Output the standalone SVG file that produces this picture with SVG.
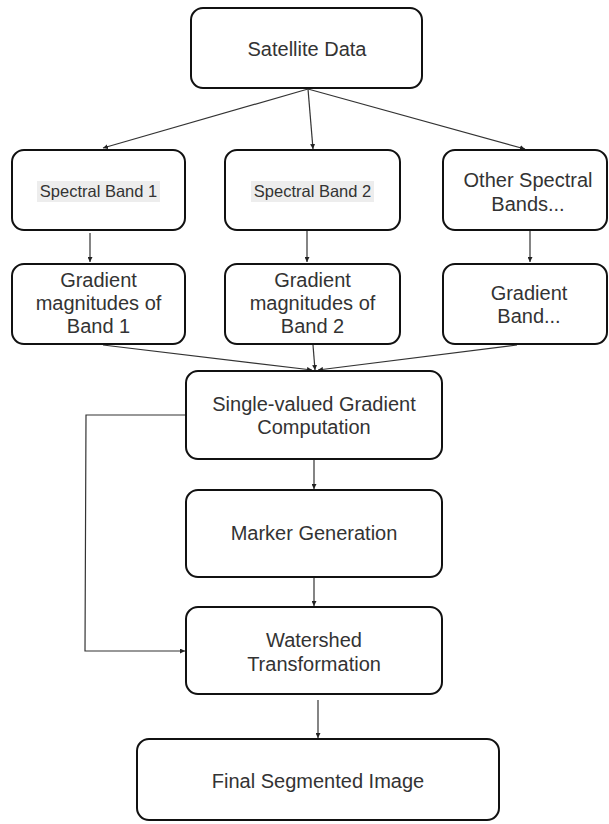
<svg xmlns="http://www.w3.org/2000/svg" width="609" height="824" viewBox="0 0 609 824">
<defs>
<marker id="ah" viewBox="0 0 10 10" refX="10" refY="5" markerWidth="5" markerHeight="5" orient="auto" markerUnits="userSpaceOnUse">
<path d="M0,0 L10,5 L0,10 z" fill="#222"/>
</marker>
<style>
.box{fill:#fff;stroke:#111;stroke-width:2}
.t{font-family:"Liberation Sans",Arial,sans-serif;font-size:20px;fill:#333;text-anchor:middle}
.s{font-family:"Liberation Sans",Arial,sans-serif;font-size:16.5px;fill:#333;text-anchor:middle}
.hl{fill:#ededed}
.c{fill:none;stroke:#333;stroke-width:1.2;marker-end:url(#ah)}
.cn{fill:none;stroke:#333;stroke-width:1.2}
</style>
</defs>
<rect width="609" height="824" fill="#fff"/>
<g id="connectors">
<path class="c" d="M308,89 L103,148"/>
<path class="c" d="M308,89 L313,149"/>
<path class="c" d="M308,89 L525,149"/>
<path class="c" d="M90,233 L90,262"/>
<path class="c" d="M307,231 L307,262"/>
<path class="c" d="M530,231 L530,262"/>
<path class="c" d="M103,345 L312,370"/>
<path class="c" d="M313,345 L315,370"/>
<path class="c" d="M517,345 L318,370"/>
<path class="c" d="M314,460 L314,489"/>
<path class="c" d="M314,578 L314,606"/>
<path class="c" d="M186,415 L86,415 L85,651 L185,651"/>
<path class="c" d="M318,700 L318,738"/>
</g>
<g id="satellite">
<rect class="box" x="191" y="8" width="231" height="80" rx="12"/>
<text class="t" x="307" y="56">Satellite Data</text>
</g>
<g id="band1">
<rect class="box" x="12" y="150" width="173" height="80" rx="12"/>
<rect class="hl" x="37" y="181" width="123" height="21"/>
<text class="s" x="98.5" y="197">Spectral Band 1</text>
</g>
<g id="band2">
<rect class="box" x="225" y="150" width="175" height="80" rx="12"/>
<rect class="hl" x="251" y="181" width="123" height="21"/>
<text class="s" x="312.5" y="197">Spectral Band 2</text>
</g>
<g id="band-other">
<rect class="box" x="443" y="150" width="164" height="80" rx="12"/>
<text class="t" x="528" y="187">Other Spectral</text>
<text class="t" x="528" y="211">Bands...</text>
</g>
<g id="grad1">
<rect class="box" x="12" y="264" width="173" height="80" rx="12"/>
<text class="t" x="98.5" y="287">Gradient</text>
<text class="t" x="98.5" y="310">magnitudes of</text>
<text class="t" x="98.5" y="333">Band 1</text>
</g>
<g id="grad2">
<rect class="box" x="225" y="264" width="175" height="80" rx="12"/>
<text class="t" x="312.5" y="287">Gradient</text>
<text class="t" x="312.5" y="310">magnitudes of</text>
<text class="t" x="312.5" y="333">Band 2</text>
</g>
<g id="grad-other">
<rect class="box" x="443" y="264" width="164" height="80" rx="12"/>
<text class="t" x="529" y="300">Gradient</text>
<text class="t" x="529" y="323">Band...</text>
</g>
<g id="single">
<rect class="box" x="186" y="371" width="256" height="88" rx="12"/>
<text class="t" x="314" y="411">Single-valued Gradient</text>
<text class="t" x="314" y="434">Computation</text>
</g>
<g id="marker">
<rect class="box" x="186" y="490" width="256" height="87" rx="12"/>
<text class="t" x="314" y="540">Marker Generation</text>
</g>
<g id="watershed">
<rect class="box" x="186" y="607" width="256" height="87" rx="12"/>
<text class="t" x="314" y="647">Watershed</text>
<text class="t" x="314" y="671">Transformation</text>
</g>
<g id="final">
<rect class="box" x="137" y="739" width="362" height="81" rx="12"/>
<text class="t" x="318" y="788">Final Segmented Image</text>
</g>
</svg>
